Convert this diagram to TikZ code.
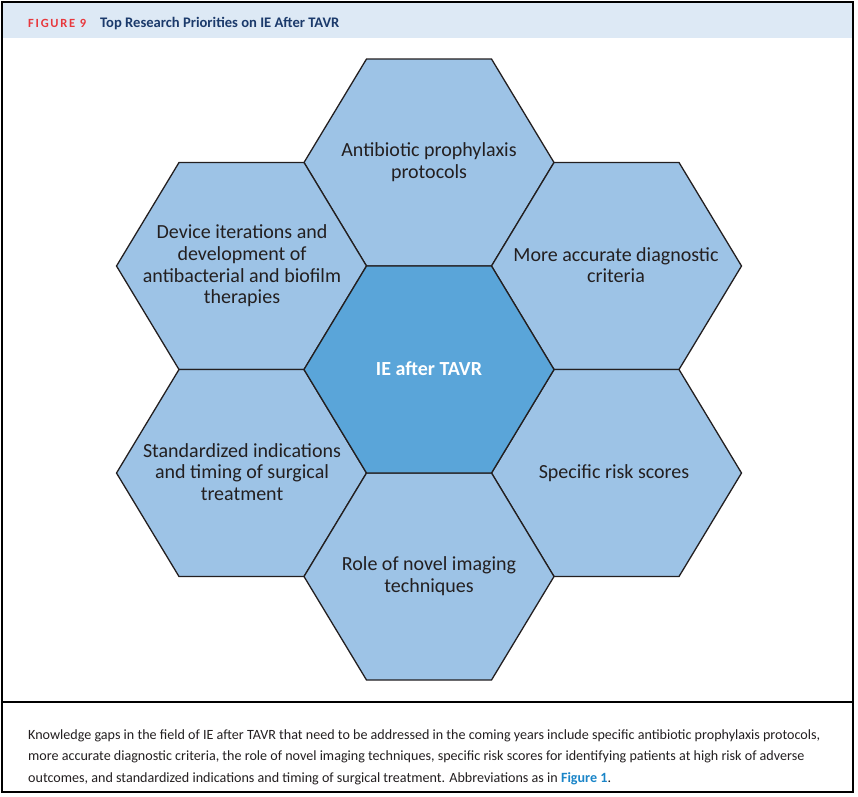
\documentclass[tikz,border=0pt]{standalone}
\usepackage{fontspec}
\setmainfont{Carlito}
\definecolor{hexside}{HTML}{9DC3E6}
\definecolor{hexmid}{HTML}{5AA5D9}
\definecolor{titlebar}{HTML}{DDE9F5}
\definecolor{figred}{HTML}{E8383D}
\definecolor{navy}{HTML}{1B3A6B}
\definecolor{inkc}{HTML}{231F20}
\definecolor{linkblue}{HTML}{1A85C8}
\begin{document}
\begin{tikzpicture}[x=1pt,y=-1pt,
  hexshape/.style={draw=inkc,line width=1.3pt,line join=miter},
  hextext/.style={text=inkc,align=center,font=\fontsize{20}{21.7}\selectfont},
  frameline/.style={draw=black,line width=1.4pt}]
\useasboundingbox (0,0) rectangle (858,796);
\def\hexpath#1#2{(#1+125,#2) -- (#1+62.5,#2+103.5) -- (#1-62.5,#2+103.5) -- (#1-125,#2) -- (#1-62.5,#2-103.5) -- (#1+62.5,#2-103.5) -- cycle}
% frame
\fill[titlebar] (2,2) rectangle (853,38);
\draw[frameline] (2,2) rectangle (853,792);
\draw[frameline] (2,702) -- (853,702);
% title
\node[anchor=base west,inner sep=0] (fig) at (28,27) {\fontsize{12.5}{14}\selectfont\bfseries\color{figred}\addfontfeature{LetterSpace=14}FIGURE 9};
\node[anchor=base west,inner sep=0] (title) at (100,27) {\fontsize{14.6}{16}\selectfont\bfseries\color{navy}Top Research Priorities on IE After TAVR};
% hexagons
\path[hexshape,fill=hexside] \hexpath{429}{162.5};
\path[hexshape,fill=hexside] \hexpath{241.5}{266};
\path[hexshape,fill=hexside] \hexpath{616.5}{266};
\path[hexshape,fill=hexside] \hexpath{241.5}{473};
\path[hexshape,fill=hexside] \hexpath{616.5}{473};
\path[hexshape,fill=hexside] \hexpath{429}{576.5};
\path[hexshape,fill=hexmid] \hexpath{429}{369.5};
% texts
\node[hextext] (top) at (429,162) {Antibiotic prophylaxis\\protocols};
\node[hextext] (ul) at (242,266) {Device iterations and\\development of\\antibacterial and biofilm\\therapies};
\node[hextext] (ur) at (616,265) {More accurate diagnostic\\criteria};
\node[hextext] (ll) at (242,472) {Standardized indications\\and timing of surgical\\treatment};
\node[hextext] (lr) at (614,473) {Specific risk scores};
\node[hextext] (bot) at (429,576) {Role of novel imaging\\techniques};
\node[hextext,text=white,font=\fontsize{20}{22}\selectfont\bfseries] (mid) at (429,369) {IE after TAVR};
% caption
\node[anchor=west,inner sep=0,align=left,text=inkc,font=\fontsize{14.1}{21.7}\selectfont] (cap) at (28,757) {Knowledge gaps in the field of IE after TAVR that need to be addressed in the coming years include specific antibiotic prophylaxis protocols,\\more accurate diagnostic criteria, the role of novel imaging techniques, specific risk scores for identifying patients at high risk of adverse\\outcomes, and standardized indications and timing of surgical treatment. Abbreviations as in {\bfseries\color{linkblue}Figure 1}.};
\end{tikzpicture}
\end{document}
